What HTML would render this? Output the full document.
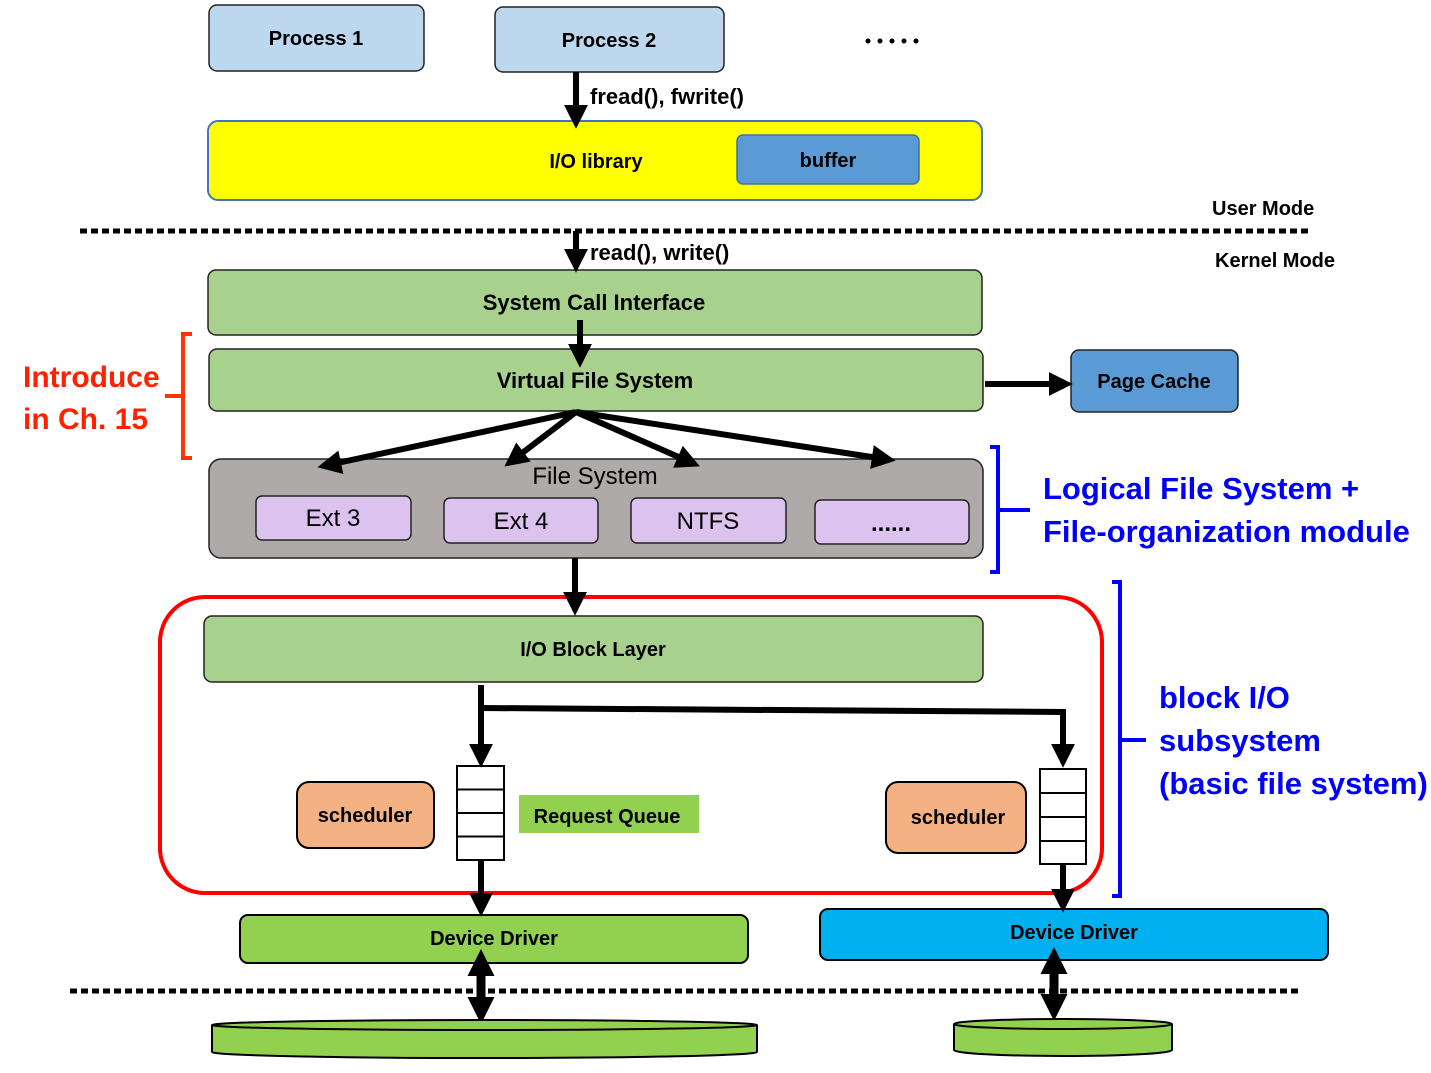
<!DOCTYPE html>
<html><head><meta charset="utf-8"><style>
html,body{margin:0;padding:0;background:#fff;}
svg text{font-family:"Liberation Sans",sans-serif;}
</style></head><body>
<svg width="1431" height="1068" viewBox="0 0 1431 1068" xmlns="http://www.w3.org/2000/svg">
<defs>
<marker id="ah" markerWidth="4" markerHeight="4" refX="2.2" refY="2" orient="auto" markerUnits="strokeWidth">
<path d="M0,0 L4,2 L0,4 z" fill="#000"/></marker>
<marker id="ah2" markerWidth="4" markerHeight="3" refX="1" refY="1.5" orient="auto-start-reverse" markerUnits="strokeWidth">
<path d="M0,0 L3,1.5 L0,3 z" fill="#000"/></marker>
</defs>
<g stroke="#222" stroke-width="1.5">
<rect x="209" y="5" width="215" height="66" rx="8" fill="#bdd7ee"/>
<rect x="495" y="7" width="229" height="65" rx="8" fill="#bdd7ee"/>
<rect x="208" y="121" width="774" height="79" rx="10" fill="#ffff00" stroke="#4472c4" stroke-width="2"/>
<rect x="737" y="135" width="182" height="49" rx="6" fill="#5b9bd5" stroke="#41719c"/>
<rect x="208" y="270" width="774" height="65" rx="8" fill="#a9d18e"/>
<rect x="209" y="349" width="774" height="62" rx="8" fill="#a9d18e"/>
<rect x="1071" y="350" width="167" height="62" rx="8" fill="#5b9bd5"/>
<rect x="209" y="459" width="774" height="99" rx="12" fill="#aeaaaa"/>
<rect x="256" y="496" width="155" height="44" rx="6" fill="#dcc3ef"/>
<rect x="444" y="498" width="154" height="45" rx="6" fill="#dcc3ef"/>
<rect x="631" y="498" width="155" height="45" rx="6" fill="#dcc3ef"/>
<rect x="815" y="500" width="154" height="44" rx="6" fill="#dcc3ef"/>
<rect x="204" y="616" width="779" height="66" rx="8" fill="#a9d18e"/>
<rect x="297" y="782" width="137" height="66" rx="12" fill="#f4b183" stroke="#000" stroke-width="2"/>
<rect x="886" y="782" width="140" height="71" rx="12" fill="#f4b183" stroke="#000" stroke-width="2"/>
<rect x="240" y="915" width="508" height="48" rx="8" fill="#92d050" stroke="#000" stroke-width="2"/>
<rect x="820" y="909" width="508" height="51" rx="8" fill="#00b0f0" stroke="#000" stroke-width="2"/>
</g>
<rect x="519" y="795" width="180" height="38" fill="#92d050"/>
<g fill="#fff" stroke="#000" stroke-width="2">
<rect x="457" y="766" width="47" height="23.5"/><rect x="457" y="789.5" width="47" height="23.5"/><rect x="457" y="813" width="47" height="23.5"/><rect x="457" y="836.5" width="47" height="23.5"/>
<rect x="1040" y="769" width="46" height="24"/><rect x="1040" y="793" width="46" height="24"/><rect x="1040" y="817" width="46" height="24"/><rect x="1040" y="841" width="46" height="23"/>
</g>
<rect x="160" y="597" width="942" height="296" rx="45" fill="none" stroke="#ff0000" stroke-width="4"/>
<line x1="80" y1="231" x2="1308" y2="231" stroke="#000" stroke-width="5" stroke-dasharray="7 4"/>
<line x1="70" y1="991" x2="1298" y2="991" stroke="#000" stroke-width="5" stroke-dasharray="7 4"/>
<g stroke="#000" stroke-width="6" fill="none">
<line x1="576" y1="72" x2="576" y2="118" marker-end="url(#ah)"/>
<line x1="576" y1="231" x2="576" y2="262" marker-end="url(#ah)"/>
<line x1="580" y1="320" x2="580" y2="357" marker-end="url(#ah)"/>
<line x1="985" y1="384" x2="1062" y2="384" marker-end="url(#ah)"/>
<line x1="576" y1="412" x2="328" y2="465" marker-end="url(#ah)"/>
<line x1="576" y1="412" x2="513" y2="460" marker-end="url(#ah)"/>
<line x1="576" y1="412" x2="690" y2="462" marker-end="url(#ah)"/>
<line x1="576" y1="412" x2="885" y2="459" marker-end="url(#ah)"/>
<line x1="575" y1="558" x2="575" y2="605" marker-end="url(#ah)"/>
<line x1="481" y1="685" x2="481" y2="757" marker-end="url(#ah)"/>
<polyline points="481,708 1063,712 1063,757" marker-end="url(#ah)"/>
<line x1="481" y1="860" x2="481" y2="906" marker-end="url(#ah)"/>
<line x1="1063" y1="864" x2="1063" y2="902" marker-end="url(#ah)"/>
<line x1="481" y1="967" x2="481" y2="1006" marker-start="url(#ah2)" marker-end="url(#ah2)" stroke-width="9"/>
<line x1="1054" y1="965" x2="1054" y2="1003" marker-start="url(#ah2)" marker-end="url(#ah2)" stroke-width="9"/>
</g>
<path d="M192,334 H183 V458 H192 M183,396 H165" fill="none" stroke="#ff3300" stroke-width="4"/>
<path d="M990,447 H998 V572 H990 M998,510 H1030" fill="none" stroke="#0000ff" stroke-width="4"/>
<path d="M1112,582 H1120 V896 H1112 M1120,740 H1146" fill="none" stroke="#0000ff" stroke-width="4"/>
<g fill="#92d050" stroke="#000" stroke-width="2">
<path d="M212,1025 V1052 A272,6 0 0 0 757,1052 V1025"/>
<ellipse cx="484.5" cy="1025" rx="272.5" ry="5"/>
<path d="M954,1024 V1050 A109,6 0 0 0 1172,1050 V1024"/>
<ellipse cx="1063" cy="1024" rx="109" ry="5"/>
</g>
<g fill="#000">
<circle cx="868" cy="41" r="2.5"/><circle cx="880" cy="41" r="2.5"/><circle cx="892" cy="41" r="2.5"/><circle cx="904" cy="41" r="2.5"/><circle cx="916" cy="41" r="2.5"/>
</g>
<g font-weight="bold" font-size="20" text-anchor="middle" fill="#000">
<text x="316" y="45">Process 1</text>
<text x="609" y="47">Process 2</text>
<text x="596" y="168">I/O library</text>
<text x="828" y="167">buffer</text>
<text x="594" y="310" font-size="22">System Call Interface</text>
<text x="595" y="388" font-size="22">Virtual File System</text>
<text x="1154" y="388">Page Cache</text>
<text x="593" y="656">I/O Block Layer</text>
<text x="365" y="822">scheduler</text>
<text x="958" y="824">scheduler</text>
<text x="607" y="823">Request Queue</text>
<text x="494" y="945">Device Driver</text>
<text x="1074" y="939">Device Driver</text>
</g>
<g font-weight="bold" font-size="22" fill="#000">
<text x="590" y="104">fread(), fwrite()</text>
<text x="590" y="260">read(), write()</text>
<text x="1212" y="215" font-size="20">User Mode</text>
<text x="1215" y="267" font-size="20">Kernel Mode</text>
</g>
<g font-size="24" text-anchor="middle" fill="#000">
<text x="595" y="484">File System</text>
<text x="333" y="526">Ext 3</text>
<text x="521" y="529">Ext 4</text>
<text x="708" y="529">NTFS</text>
<text x="891" y="531" font-weight="bold">......</text>
</g>
<g font-weight="bold" font-size="30" fill="#ff2200">
<text x="23" y="387">Introduce</text>
<text x="23" y="429">in Ch. 15</text>
</g>
<g font-weight="bold" font-size="31" fill="#0000ff">
<text x="1043" y="499">Logical File System +</text>
<text x="1043" y="542">File-organization module</text>
<text x="1159" y="708">block I/O</text>
<text x="1159" y="751">subsystem</text>
<text x="1159" y="794">(basic file system)</text>
</g>
</svg>
</body></html>
